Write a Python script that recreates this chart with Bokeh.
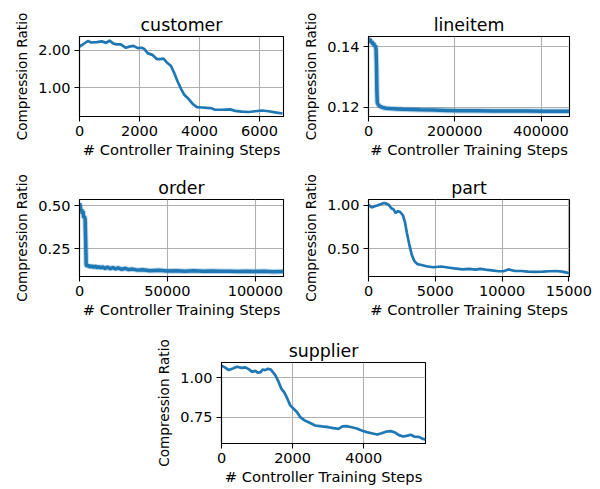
from bokeh.plotting import figure
from bokeh.layouts import column, row
from bokeh.models import Range1d, FixedTicker, NumeralTickFormatter, Spacer
from bokeh.embed import file_html
from bokeh.resources import INLINE

LINE = "#1f77b4"
FONT = "DejaVu Sans"

# customer table
customer_steps = [0, 133, 278, 389, 578, 744, 889, 1000, 1133, 1244, 1378, 1544, 1656,
                  1800, 1944, 2078, 2156, 2278, 2433, 2578, 2689, 2800, 2911, 3044,
                  3156, 3278, 3389, 3500, 3633, 3767, 3911, 4078, 4244, 4389, 4522,
                  4744, 5022, 5189, 5411, 5633, 5856, 6078, 6300, 6522, 6767]
customer_ratio = [2.09, 2.16, 2.24, 2.20, 2.21, 2.23, 2.19, 2.25, 2.17, 2.15, 2.15, 2.06,
                  2.09, 2.11, 2.05, 2.06, 2.03, 1.91, 1.87, 1.76, 1.76, 1.77, 1.67, 1.58,
                  1.39, 1.15, 0.96, 0.80, 0.70, 0.57, 0.48, 0.47, 0.46, 0.45, 0.41, 0.41,
                  0.42, 0.38, 0.36, 0.35, 0.37, 0.39, 0.37, 0.34, 0.31]

# lineitem table
lineitem_steps = [0, 2000, 4000, 6000, 8000, 10000, 12000, 14000, 16000, 17500, 18500,
                  19500, 20500, 23000, 27000, 32000, 40000, 50000, 65000, 80000, 100000,
                  120000, 150000, 180000, 210000, 250000, 290000, 330000, 370000, 410000,
                  440000, 466000]
lineitem_ratio = [0.1428, 0.1420, 0.1424, 0.1412, 0.1418, 0.1406, 0.1412, 0.1400, 0.1404,
                  0.1390, 0.1340, 0.1250, 0.1215, 0.1208, 0.1203, 0.1200, 0.1197, 0.1196,
                  0.1195, 0.1194, 0.1193, 0.1192, 0.1191, 0.1190, 0.1189, 0.1189, 0.1188,
                  0.1188, 0.1188, 0.1187, 0.1187, 0.1187]

# order table
order_steps = [0, 400, 800, 1200, 1600, 2000, 2400, 2800, 3200, 3500, 3800, 4300, 5000,
               6000, 7000, 8000, 9000, 10000, 11000, 12000, 13000, 14500, 16000, 17500,
               19000, 20500, 22000, 24000, 26000, 28000, 30000, 33000, 36000, 40000,
               45000, 50000, 55000, 60000, 65000, 70000, 75000, 80000, 85000, 90000,
               95000, 100000, 105000, 110000, 116000]
order_ratio = [0.515, 0.50, 0.47, 0.48, 0.455, 0.47, 0.43, 0.44, 0.42, 0.30, 0.16, 0.148,
               0.155, 0.145, 0.152, 0.143, 0.150, 0.141, 0.148, 0.139, 0.146, 0.137, 0.144,
               0.136, 0.142, 0.134, 0.140, 0.132, 0.137, 0.130, 0.133, 0.127, 0.129, 0.124,
               0.126, 0.122, 0.124, 0.121, 0.123, 0.120, 0.122, 0.120, 0.121, 0.119, 0.121,
               0.119, 0.120, 0.118, 0.119]

# part table
part_steps = [0, 49, 221, 417, 662, 907, 1152, 1348, 1520, 1691, 1887, 2034, 2206, 2377,
              2574, 2721, 2868, 3039, 3235, 3431, 3652, 3971, 4338, 4828, 5441, 5931,
              6422, 7034, 7524, 8015, 8382, 8750, 9240, 9730, 10098, 10466, 10956, 11446,
              11936, 12426, 13039, 13529, 14020, 14510, 14926, 15050]
part_ratio = [1.00, 1.00, 0.975, 0.986, 0.996, 1.011, 1.025, 1.018, 1.004, 0.968, 0.95,
              0.91, 0.932, 0.921, 0.885, 0.813, 0.687, 0.561, 0.435, 0.363, 0.327, 0.317,
              0.302, 0.291, 0.299, 0.288, 0.277, 0.266, 0.273, 0.263, 0.273, 0.263, 0.255,
              0.245, 0.245, 0.266, 0.248, 0.248, 0.241, 0.237, 0.241, 0.245, 0.248, 0.241,
              0.227, 0.225]

# supplier table
supplier_steps = [0, 93, 206, 318, 439, 561, 673, 766, 860, 953, 1028, 1103, 1159, 1234,
                  1308, 1383, 1439, 1514, 1607, 1682, 1776, 1850, 1935, 2028, 2121, 2215,
                  2336, 2495, 2636, 2822, 3009, 3150, 3290, 3402, 3523, 3664, 3804, 3944,
                  4084, 4224, 4383, 4505, 4645, 4766, 4879, 4991, 5112, 5234, 5327, 5421,
                  5551, 5673, 5740]
supplier_ratio = [1.074, 1.064, 1.047, 1.057, 1.068, 1.061, 1.064, 1.053, 1.036, 1.042,
                  1.030, 1.034, 1.051, 1.047, 1.055, 1.051, 1.036, 1.015, 0.972, 0.930,
                  0.903, 0.867, 0.824, 0.803, 0.782, 0.750, 0.729, 0.712, 0.697, 0.691,
                  0.686, 0.680, 0.676, 0.691, 0.693, 0.686, 0.678, 0.665, 0.655, 0.648,
                  0.640, 0.648, 0.659, 0.661, 0.653, 0.636, 0.627, 0.633, 0.638, 0.627,
                  0.625, 0.612, 0.608]

X_LABEL = "# Controller Training Steps"
Y_LABEL = "Compression Ratio"


def panel(title, xs, ys, xr, yr, xticks, yticks, w, h, left, right, top, bottom,
          noisy=False):
    p = figure(width=w, height=h, title=title,
               x_range=Range1d(*xr), y_range=Range1d(*yr),
               output_backend="svg", toolbar_location=None,
               min_border_left=left, min_border_right=right,
               min_border_top=top, min_border_bottom=bottom)
    p.background_fill_color = "white"
    p.border_fill_color = "white"
    p.outline_line_color = "black"
    p.outline_line_width = 1.1

    p.title.text_font = FONT
    p.title.text_font_size = "17.4px"
    p.title.text_font_style = "normal"
    p.title.text_color = "black"
    p.title.align = "center"
    p.title.standoff = 4

    p.xaxis.ticker = FixedTicker(ticks=xticks)
    p.yaxis.ticker = FixedTicker(ticks=yticks)
    p.xaxis.formatter = NumeralTickFormatter(format="0")
    p.yaxis.formatter = NumeralTickFormatter(format="0.00")
    p.xaxis.axis_label = X_LABEL
    p.yaxis.axis_label = Y_LABEL

    for ax in (p.xaxis, p.yaxis):
        ax.axis_line_color = "black"
        ax.axis_line_width = 1.1
        ax.major_tick_line_color = "black"
        ax.major_tick_line_width = 1.1
        ax.major_tick_out = 5
        ax.major_tick_in = 0
        ax.minor_tick_line_color = None
        ax.major_label_text_font = FONT
        ax.major_label_text_font_size = "14.5px"
        ax.major_label_text_color = "black"
        ax.major_label_standoff = 4
        ax.axis_label_text_font = FONT
        ax.axis_label_text_font_style = "normal"
        ax.axis_label_text_color = "black"
    p.xaxis.axis_label_text_font_size = "14.7px"
    p.yaxis.axis_label_text_font_size = "13.6px"
    p.xaxis.axis_label_standoff = 2
    p.yaxis.axis_label_standoff = 5

    p.grid.grid_line_color = "#b0b0b0"
    p.grid.grid_line_width = 1.1

    if noisy:
        # dense, jittery runs read as a thick band with a soft fringe
        p.line(xs, ys, line_color=LINE, line_width=5.5, line_alpha=0.3)
        p.line(xs, ys, line_color=LINE, line_width=3.5)
    else:
        p.line(xs, ys, line_color=LINE, line_width=2.7)
    return p


f_customer = panel("customer", customer_steps, customer_ratio, (0, 6800), (0.23, 2.36),
                   [0, 2000, 4000, 6000], [1.0, 2.0], 300, 160, 79, 17, 36, 42)
f_lineitem = panel("lineitem", lineitem_steps, lineitem_ratio, (0, 466000), (0.1170, 0.1433),
                   [0, 200000, 400000], [0.12, 0.14], 300, 160, 65, 31, 36, 42, noisy=True)
f_order = panel("order", order_steps, order_ratio, (0, 116000), (0.09, 0.537),
                [0, 50000, 100000], [0.25, 0.5], 300, 160, 79, 17, 39, 40, noisy=True)
f_part = panel("part", part_steps, part_ratio, (0, 15050), (0.185, 1.065),
               [0, 5000, 10000, 15000], [0.5, 1.0], 300, 160, 64, 31, 39, 40)
f_supplier = panel("supplier", supplier_steps, supplier_ratio, (0, 5740), (0.583, 1.095),
                   [0, 2000, 4000], [0.75, 1.0], 300, 169, 71, 25, 42, 46)

layout = column(
    row(f_customer, f_lineitem),
    row(f_order, f_part),
    row(Spacer(width=150, height=169), f_supplier),
)

open("out.html", "w").write(file_html(layout, INLINE))
